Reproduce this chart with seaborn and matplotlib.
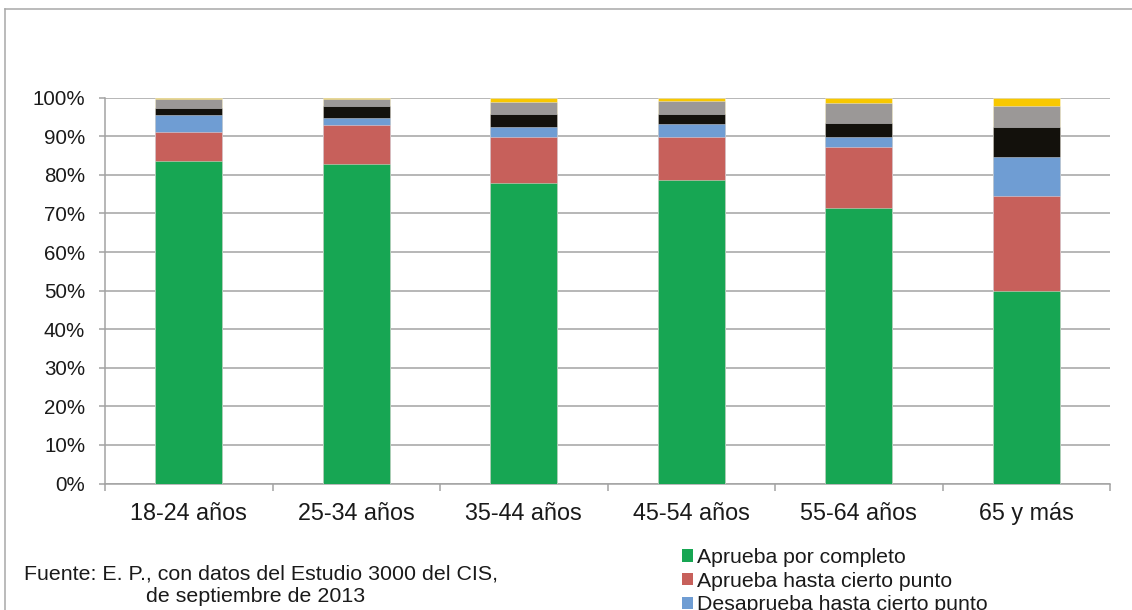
import numpy as np
import pandas as pd
import seaborn as sns
import matplotlib.pyplot as plt
from matplotlib.lines import Line2D
from matplotlib.patches import Patch
from matplotlib.ticker import FuncFormatter

# Categories (age groups)
categories = ["18-24 años", "25-34 años", "35-44 años", "45-54 años", "55-64 años", "65 y más"]

# Share of answers per age group (%)
aprueba_completo = [83.7, 82.9, 78.0, 78.6, 71.3, 50.0]
aprueba_cierto = [7.4, 9.9, 11.8, 11.1, 15.9, 24.5]
desaprueba_cierto = [4.5, 2.0, 2.7, 3.5, 2.6, 10.1]
desaprueba_completo = [1.8, 3.1, 3.2, 2.5, 3.7, 7.9]
ns = [2.3, 1.8, 3.2, 3.5, 5.0, 5.3]
nc = [0.3, 0.3, 1.1, 0.8, 1.5, 2.2]

series_names = ["Aprueba por completo", "Aprueba hasta cierto punto",
                "Desaprueba hasta cierto punto", "Desaprueba por completo",
                "NS", "NC"]
series_colors = ["#17A653", "#C7605B", "#6F9DD3", "#13110C", "#9B9897", "#F8C800"]

data = pd.DataFrame({
    "categoria": categories,
    series_names[0]: aprueba_completo,
    series_names[1]: aprueba_cierto,
    series_names[2]: desaprueba_cierto,
    series_names[3]: desaprueba_completo,
    series_names[4]: ns,
    series_names[5]: nc,
})

# cumulative totals, drawn from the top layer down so each covers the previous
cum = data[series_names].cumsum(axis=1)

plt.rcParams["font.family"] = ["Liberation Sans", "DejaVu Sans"]
text_color = "#1A1A1A"
grid_color = "#A3A3A3"

fig = plt.figure(figsize=(11.32, 6.10), dpi=100)
ax = fig.add_axes([105 / 1132, 1 - 483.5 / 610, (1110 - 105) / 1132, (483.5 - 97.7) / 610])

for name, color in reversed(list(zip(series_names, series_colors))):
    sns.barplot(x=data["categoria"], y=cum[name], color=color, saturation=1,
                width=0.4, edgecolor=(1, 1, 1, 0.45), linewidth=0.6, ax=ax, zorder=3)

ax.set_xlim(-0.5, len(categories) - 0.5)
ax.set_ylim(0, 100)
ax.set_yticks(np.arange(0, 101, 10))
ax.yaxis.set_major_formatter(FuncFormatter(lambda v, p: f"{int(v)}%"))
ax.set_xlabel("")
ax.set_ylabel("")

ax.yaxis.grid(True, color=grid_color, linewidth=1.1)
ax.set_axisbelow(True)

for side in ["top", "right"]:
    ax.spines[side].set_visible(False)
for side in ["left", "bottom"]:
    ax.spines[side].set_color(grid_color)
    ax.spines[side].set_linewidth(1.1)

ax.set_xticks(np.arange(-0.5, len(categories), 1), minor=True)
ax.tick_params(axis="x", which="major", length=0, pad=13.5, labelsize=16.8, labelcolor=text_color)
ax.tick_params(axis="x", which="minor", length=5, width=1.1, color=grid_color, direction="out")
ax.tick_params(axis="y", length=4.3, width=1.1, color=grid_color, pad=10, labelsize=14.8,
               labelcolor=text_color)

# outer frame (left and top edge visible)
fig.add_artist(Line2D([5 / 1132, 5 / 1132], [0, 1 - 9 / 610], color="#A8A8A8", linewidth=1.1))
fig.add_artist(Line2D([5 / 1132, 1], [1 - 9 / 610, 1 - 9 / 610], color="#A8A8A8", linewidth=1.1))

# source note
fig.text(261 / 1132, 1 - 580 / 610, "Fuente: E. P., con datos del Estudio 3000 del CIS,",
         ha="center", va="baseline", fontsize=15.4, color=text_color)
fig.text(256 / 1132, 1 - 602 / 610, "de septiembre de 2013",
         ha="center", va="baseline", fontsize=15.4, color=text_color)

# legend (only the first rows fit in the frame)
handles = [Patch(facecolor=c) for c in series_colors[:3]]
fig.legend(handles, series_names[:3], loc="upper left",
           bbox_to_anchor=(682 / 1132, 1 - 548 / 610), frameon=False,
           fontsize=15.3, handlelength=0.52, handleheight=0.52, handletextpad=0.2,
           labelspacing=0.22, borderpad=0, borderaxespad=0, labelcolor=text_color)

fig.savefig("out.png", dpi=100)
